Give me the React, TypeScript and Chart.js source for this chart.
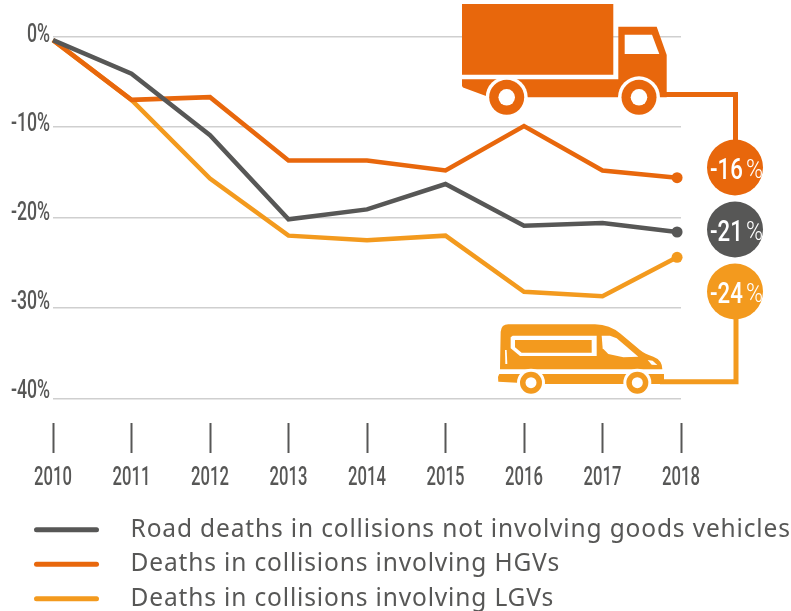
import React, { useEffect, useRef } from "react";
import { Chart, registerables } from "chart.js";

Chart.register(...registerables);

const INK = "#575756";
const HGV = "#e8670c";
const LGV = "#f39a1e";
const GRID = "#cfcfcf";
const COND = 'Roboto, "Liberation Sans", sans-serif';

const years = [2010, 2011, 2012, 2013, 2014, 2015, 2016, 2017, 2018];
const plotYears = [2010, 2011, 2012, 2013, 2014, 2015, 2016, 2017, 2017.95];
const yTicks = [0, -10, -20, -30, -40];
const yLabelDrop = [5.5, 4, 2.5, 1, -0.5];
const otherDeaths = [-0.4, -4.1, -10.9, -20.2, -19.1, -16.3, -20.9, -20.6, -21.6];
const hgvDeaths = [-0.4, -7.0, -6.7, -13.7, -13.7, -14.8, -9.9, -14.8, -15.6];
const lgvDeaths = [-0.4, -7.0, -15.7, -22.0, -22.5, -22.0, -28.2, -28.7, -24.4];
const seriesLabels = [
  "Road deaths in collisions not involving goods vehicles",
  "Deaths in collisions involving HGVs",
  "Deaths in collisions involving LGVs",
];
const badges = [
  { num: "-16", color: HGV, cy: 167.5 },
  { num: "-21", color: INK, cy: 229.5 },
  { num: "-24", color: LGV, cy: 291.5 },
];

function wheel(ctx: CanvasRenderingContext2D, x: number, y: number, gap: number, r: number, hole: number, color: string) {
  ctx.fillStyle = "#fff";
  ctx.beginPath(); ctx.arc(x, y, gap, 0, Math.PI * 2); ctx.fill();
  ctx.fillStyle = color;
  ctx.beginPath(); ctx.arc(x, y, r, 0, Math.PI * 2); ctx.fill();
  ctx.fillStyle = "#fff";
  ctx.beginPath(); ctx.arc(x, y, hole, 0, Math.PI * 2); ctx.fill();
}

function poly(ctx: CanvasRenderingContext2D, pts: number[][], color: string) {
  ctx.fillStyle = color;
  ctx.beginPath();
  pts.forEach(([x, y], i) => (i ? ctx.lineTo(x, y) : ctx.moveTo(x, y)));
  ctx.closePath();
  ctx.fill();
}

function drawTruck(ctx: CanvasRenderingContext2D) {
  ctx.strokeStyle = HGV; ctx.lineWidth = 5;
  ctx.beginPath(); ctx.moveTo(660, 94.5); ctx.lineTo(735.5, 94.5); ctx.lineTo(735.5, 145); ctx.stroke();
  poly(ctx, [[462, 4], [613.3, 4], [613.3, 74.7], [462, 74.7]], HGV);
  poly(ctx, [[618.3, 26.7], [656.7, 26.7], [666.7, 55], [666.7, 97.3], [618.3, 97.3]], HGV);
  poly(ctx, [[462, 79.3], [620, 79.3], [620, 97.3], [486, 97.3], [486, 96], [463, 87.5], [462, 86]], HGV);
  poly(ctx, [[624.7, 34.7], [652, 34.7], [659.3, 54], [624.7, 54]], "#fff");
  wheel(ctx, 506.7, 97.3, 21, 17.5, 8.3, HGV);
  wheel(ctx, 639, 97.3, 21, 17.5, 8.3, HGV);
}

function drawVan(ctx: CanvasRenderingContext2D) {
  const X = (v: number) => 480 + v / 3;
  const Y = (v: number) => 200 + v / 3;
  const P = (a: number[][]) => a.map(([x, y]) => [X(x), Y(y)]);
  ctx.strokeStyle = LGV; ctx.lineWidth = 5;
  ctx.beginPath(); ctx.moveTo(X(540), Y(545)); ctx.lineTo(736, Y(545)); ctx.lineTo(736, 315); ctx.stroke();
  ctx.fillStyle = LGV;
  ctx.beginPath();
  ctx.moveTo(X(60), Y(508));
  ctx.lineTo(X(62), Y(395));
  ctx.quadraticCurveTo(X(64), Y(373), X(85), Y(373));
  ctx.lineTo(X(345), Y(373));
  ctx.quadraticCurveTo(X(390), Y(375), X(420), Y(400));
  ctx.lineTo(X(480), Y(450));
  ctx.quadraticCurveTo(X(495), Y(462), X(520), Y(470));
  ctx.quadraticCurveTo(X(547), Y(480), X(547), Y(508));
  ctx.closePath();
  ctx.fill();
  poly(ctx, P([[98, 407], [350, 407], [350, 468], [120, 468], [92, 445], [92, 412]]), "#fff");
  poly(ctx, P([[105, 420], [335, 420], [335, 458], [125, 458], [105, 442]]), LGV);
  poly(ctx, P([[365, 407], [390, 407], [410, 415], [475, 470], [430, 472], [385, 462], [368, 445]]), "#fff");
  poly(ctx, P([[503, 480], [518, 482], [532, 495], [515, 494]]), "#fff");
  poly(ctx, P([[75, 450], [80, 450], [82, 492], [76, 492]]), "#fff");
  poly(ctx, P([[58, 522], [125, 522], [125, 549], [55, 545], [54, 530]]), LGV);
  poly(ctx, P([[185, 522], [445, 522], [445, 552], [185, 552]]), LGV);
  poly(ctx, P([[500, 522], [552, 522], [552, 552], [500, 552]]), LGV);
  wheel(ctx, X(153), Y(548), 14, 11, 5.5, LGV);
  wheel(ctx, X(472), Y(548), 14, 11, 5.5, LGV);
}

function condensed(ctx: CanvasRenderingContext2D, text: string, x: number, y: number, size: number, sx: number, align: CanvasTextAlign, weight = 400) {
  ctx.save();
  ctx.translate(x, y);
  ctx.scale(sx, 1);
  ctx.font = `${weight} ${size}px ${COND}`;
  ctx.textAlign = align;
  ctx.textBaseline = "alphabetic";
  ctx.fillText(text, 0, 0);
  ctx.restore();
}

function drawBadges(ctx: CanvasRenderingContext2D) {
  badges.forEach((b) => {
    ctx.fillStyle = b.color;
    ctx.beginPath(); ctx.arc(735, b.cy, 28, 0, Math.PI * 2); ctx.fill();
    ctx.fillStyle = "#fff";
    condensed(ctx, b.num, 710, b.cy + 11, 30, 0.74, "left", 500);
    condensed(ctx, "%", 746, b.cy + 10, 25, 0.92, "left", 300);
  });
}

function drawAxisLabels(chart: any) {
  const ctx = chart.ctx as CanvasRenderingContext2D;
  ctx.fillStyle = INK;
  years.forEach((yr) => {
    condensed(ctx, String(yr), chart.scales.x.getPixelForValue(yr), 485, 26, 0.64, "center", 500);
  });
  yTicks.forEach((v, i) => {
    const y = chart.scales.y.getPixelForValue(v);
    condensed(ctx, `${v}%`, 50, y + yLabelDrop[i], 26, 0.68, "right", 500);
  });
}

const artwork = {
  id: "artwork",
  beforeDraw(chart: any) {
    // the legend is the only text the library itself draws
    (chart.ctx as any).letterSpacing = "0.85px";
  },
  afterDraw(chart: any) {
    const ctx = chart.ctx as any;
    ctx.save();
    ctx.letterSpacing = "0px";
    drawAxisLabels(chart);
    drawTruck(ctx);
    drawVan(ctx);
    drawBadges(ctx);
    ctx.restore();
  },
};

export default function App() {
  const ref = useRef<HTMLCanvasElement>(null);
  useEffect(() => {
    document.body.style.margin = "0";
    const colors = [INK, HGV, LGV];
    const rows = [otherDeaths, hgvDeaths, lgvDeaths];
    const chart = new Chart(ref.current!, {
      type: "line",
      data: {
        datasets: rows.map((row, i) => ({
          label: seriesLabels[i],
          data: row.map((y, j) => ({ x: plotYears[j], y })),
          borderColor: colors[i],
          backgroundColor: colors[i],
          borderWidth: 4.5,
          borderJoinStyle: "miter",
          tension: 0,
          pointRadius: row.map((_, j) => (j === row.length - 1 ? 5.5 : 0)),
          pointBorderWidth: 0,
          pointBackgroundColor: colors[i],
          clip: false,
        })),
      },
      options: {
        responsive: false,
        animation: false,
        layout: { padding: { left: 24, right: 0, top: 36.5, bottom: -10 } },
        plugins: {
          tooltip: { enabled: false },
          legend: {
            position: "bottom",
            align: "start",
            labels: {
              boxWidth: 65,
              boxHeight: 5,
              padding: 10,
              color: INK,
              font: { family: '"Noto Sans"', size: 24.5 },
              useBorderRadius: true,
              borderRadius: 2.5,
              generateLabels(chart: any) {
                return Chart.defaults.plugins.legend.labels.generateLabels(chart).map((l: any) => ({
                  ...l,
                  text: "  \u2009" + l.text,
                  lineWidth: 0,
                }));
              },
            },
          },
        },
        scales: {
          x: {
            type: "linear",
            min: years[0],
            max: years[years.length - 1],
            border: { display: false },
            grid: { drawOnChartArea: false, drawTicks: true, tickLength: 30, tickColor: INK, tickWidth: 2 },
            ticks: { stepSize: 1, autoSkip: false, maxRotation: 0, color: "rgba(0,0,0,0)", font: { size: 1 }, callback: (v: any) => String(v) },
            afterFit(s: any) { s.height = 84.5; },
          },
          y: {
            min: -42.7,
            max: 0,
            border: { display: false },
            grid: { color: GRID, lineWidth: 1.5, drawTicks: false },
            ticks: { display: false },
            afterBuildTicks(s: any) { s.ticks = yTicks.map((value) => ({ value })); },
            afterFit(s: any) { s.width = 29; },
          },
          gutter: {
            position: "right",
            border: { display: false },
            grid: { display: false, drawTicks: false },
            ticks: { display: false },
            afterFit(s: any) { s.width = 110; },
          },
        },
      },
      plugins: [artwork],
    } as any);
    return () => chart.destroy();
  }, []);
  return <canvas ref={ref} width={791} height={611} style={{ display: "block" }} />;
}
